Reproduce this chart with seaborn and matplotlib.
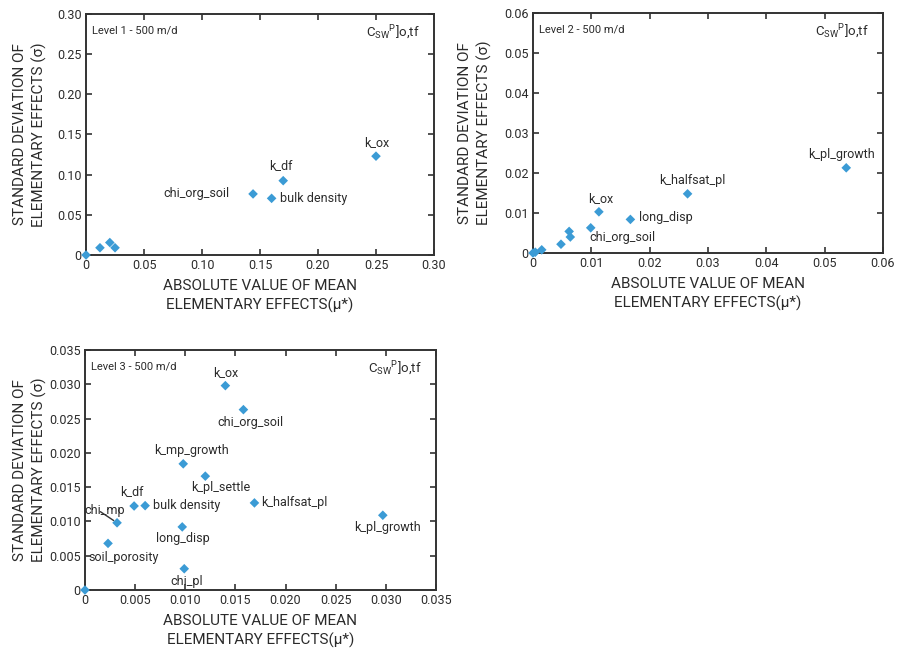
import matplotlib
matplotlib.use("Agg")
import matplotlib.pyplot as plt
import seaborn as sns
import pandas as pd

sns.set_theme(style="ticks")
plt.rcParams['font.family'] = ['Roboto', 'DejaVu Sans']
plt.rcParams['mathtext.fontset'] = 'custom'
plt.rcParams['mathtext.rm'] = 'Roboto'
plt.rcParams['mathtext.it'] = 'Roboto'

TXT = '#2b2b2b'
PT = '#3b9bd5'

# ---------------- data ----------------
l1_names = ['', '', '', '', 'chi_org_soil', 'bulk density', 'k_df', 'k_ox']
l1_mu = [0.0, 0.012, 0.0205, 0.025, 0.144, 0.160, 0.170, 0.250]
l1_sigma = [0.0, 0.009, 0.0155, 0.009, 0.076, 0.0705, 0.0925, 0.123]

l2_names = ['', '', '', '', '', '', 'chi_org_soil', 'k_ox', 'long_disp', 'k_halfsat_pl', 'k_pl_growth']
l2_mu = [0.0, 0.0004, 0.0015, 0.0048, 0.0062, 0.0064, 0.0099, 0.0113, 0.0167, 0.0265, 0.0537]
l2_sigma = [0.0, 0.0002, 0.0008, 0.0022, 0.0054, 0.0040, 0.0063, 0.0103, 0.0084, 0.0148, 0.0213]

l3_names = ['', 'k_ox', 'chi_org_soil', 'k_mp_growth', 'k_pl_settle', 'k_df', 'bulk density',
            'chi_mp', 'long_disp', 'k_halfsat_pl', 'k_pl_growth', 'soil_porosity', 'chi_pl']
l3_mu = [0.0, 0.0140, 0.0158, 0.0098, 0.0120, 0.0049, 0.0060,
         0.0032, 0.0097, 0.0169, 0.0297, 0.0023, 0.0099]
l3_sigma = [0.0, 0.0298, 0.0263, 0.0184, 0.0166, 0.01225, 0.0123,
            0.0098, 0.0092, 0.0127, 0.0109, 0.0068, 0.0031]

l1_ticks = [0, 0.05, 0.10, 0.15, 0.20, 0.25, 0.30]
l1_ticklabels = ['0', '0.05', '0.10', '0.15', '0.20', '0.25', '0.30']
l2_ticks = [0, 0.01, 0.02, 0.03, 0.04, 0.05, 0.06]
l2_ticklabels = ['0', '0.01', '0.02', '0.03', '0.04', '0.05', '0.06']
l3_ticks = [0, 0.005, 0.010, 0.015, 0.020, 0.025, 0.030, 0.035]
l3_ticklabels = ['0', '0.005', '0.010', '0.015', '0.020', '0.025', '0.030', '0.035']

titles = ['Level 1 - 500 m/d', 'Level 2 - 500 m/d', 'Level 3 - 500 m/d']

# label placement: name -> (dx px, dy px, ha, va)
l1_pos = {'chi_org_soil': (-24, 0, 'right', 'center'), 'bulk density': (8, 0, 'left', 'center'),
          'k_df': (-2, 9, 'center', 'bottom'), 'k_ox': (1, 7, 'center', 'bottom')}
l2_pos = {'chi_org_soil': (-1, -3, 'left', 'top'), 'k_ox': (2, 7, 'center', 'bottom'),
          'long_disp': (9, 2, 'left', 'center'), 'k_halfsat_pl': (5, 7, 'center', 'bottom'),
          'k_pl_growth': (-5, 7, 'center', 'bottom')}
l3_pos = {'k_ox': (0, 7, 'center', 'bottom'), 'chi_org_soil': (7, -6, 'center', 'top'),
          'k_mp_growth': (8, 7, 'center', 'bottom'), 'k_pl_settle': (15, -5, 'center', 'top'),
          'k_df': (-2, 8, 'center', 'bottom'), 'bulk density': (8, 0, 'left', 'center'),
          'chi_mp': (-12, 6, 'center', 'bottom'), 'long_disp': (1, -5, 'center', 'top'),
          'k_halfsat_pl': (7, 0, 'left', 'center'), 'k_pl_growth': (5, -6, 'center', 'top'),
          'soil_porosity': (16, -8, 'center', 'top'), 'chi_pl': (2, -6, 'center', 'top')}

fig = plt.figure(figsize=(9.0, 6.56), dpi=100)
ax1 = fig.add_axes([0.0956, 0.6113, 0.3866, 0.3674])
ax2 = fig.add_axes([0.5922, 0.6143, 0.3889, 0.3659])
ax3 = fig.add_axes([0.0944, 0.1006, 0.3900, 0.3659])

panels = [
    (ax1, l1_names, l1_mu, l1_sigma, l1_ticks, l1_ticklabels, l1_pos, 0.30, -0.161),
    (ax2, l2_names, l2_mu, l2_sigma, l2_ticks, l2_ticklabels, l2_pos, 0.06, -0.166),
    (ax3, l3_names, l3_mu, l3_sigma, l3_ticks, l3_ticklabels, l3_pos, 0.035, -0.157),
]

for i, (ax, names, mu, sig, ticks, tlabels, pos, lim, ylx) in enumerate(panels):
    df = pd.DataFrame({'mu': mu, 'sigma': sig, 'name': names})
    sns.scatterplot(data=df, x='mu', y='sigma', ax=ax, marker='D', s=24, color=PT,
                    edgecolor='none', clip_on=False, zorder=3)
    ax.set_xlim(0, lim)
    ax.set_ylim(0, lim)
    ax.set_xticks(ticks)
    ax.set_xticklabels(tlabels)
    ax.set_yticks(ticks)
    ax.set_yticklabels(tlabels)
    ax.tick_params(direction='in', length=4, width=1.2, top=True, right=True,
                   labelsize=9, colors='#333333', labelcolor=TXT, pad=3)
    for sp in ax.spines.values():
        sp.set_linewidth(1.4)
        sp.set_color('#333333')
    ax.set_xlabel('ABSOLUTE VALUE OF MEAN\nELEMENTARY EFFECTS(\u03bc*)', fontsize=11,
                  color=TXT, linespacing=1.35, labelpad=5)
    ax.set_ylabel('STANDARD DEVIATION OF\nELEMENTARY EFFECTS (\u03c3)', fontsize=11,
                  color=TXT, linespacing=1.35)
    ax.yaxis.set_label_coords(ylx, 0.5)
    ax.yaxis.label.set_va('center')
    ax.text(0.018, 0.93, titles[i], transform=ax.transAxes, fontsize=8, color=TXT,
            ha='left', va='center')
    ax.text(0.96, 0.92, r'$\mathregular{C_{SW}{}^{P}]o{,}tf}$', transform=ax.transAxes,
            fontsize=9.5, color=TXT, ha='right', va='center')
    for n, x, y in zip(names, mu, sig):
        if not n:
            continue
        dx, dy, ha, va = pos[n]
        ax.annotate(n, (x, y), xytext=(dx * 0.72, dy * 0.72), textcoords='offset points',
                    ha=ha, va=va, fontsize=9, color=TXT)

# leader line for chi_mp
ax3.annotate('', xy=(l3_mu[7], l3_sigma[7]), xytext=(-12, 8), textcoords='offset points',
             arrowprops=dict(arrowstyle='-', color='#333333', lw=1.0, shrinkA=0, shrinkB=3))

fig.savefig('out.png', dpi=100)
